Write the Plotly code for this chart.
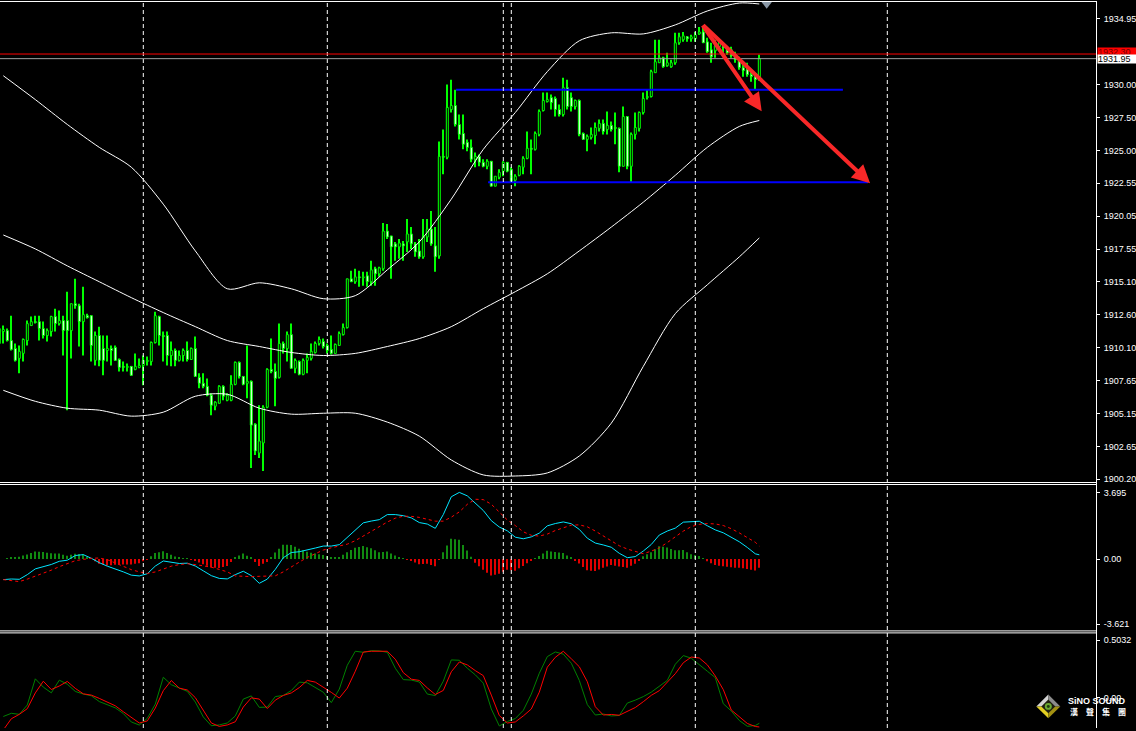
import plotly.graph_objects as go

# ---------------- DATA ----------------
# bar numbers (30-minute bars); bar k is drawn at candle slot k
candle_idx = list(range(-1, 190))
opens = [1910.44, 1911.34, 1911.41, 1910.66, 1910.06, 1909.31, 1909.69, 1910.66, 1911.79, 1912.09,
         1912.09, 1911.56, 1911.04, 1911.34, 1912.47, 1911.94, 1912.17, 1912.17, 1911.41, 1913.44,
         1913.29, 1912.09, 1912.54, 1912.54, 1909.16, 1911.04, 1910.06, 1909.91, 1910.06, 1910.14,
         1909.23, 1908.71, 1908.63, 1908.71, 1908.48, 1908.63, 1908.78, 1909.08, 1909.08, 1910.51,
         1912.47, 1911.04, 1911.04, 1909.53, 1909.91, 1909.16, 1909.53, 1909.91, 1909.23, 1910.06,
         1907.88, 1907.43, 1907.20, 1906.53, 1905.70, 1905.92, 1907.20, 1906.15, 1906.15, 1907.35,
         1909.01, 1907.95, 1907.43, 1907.58, 1904.34, 1902.16, 1902.92, 1905.62, 1908.48, 1908.33,
         1907.88, 1910.44, 1910.06, 1911.11, 1908.56, 1909.08, 1908.11, 1909.16, 1909.31, 1909.76,
         1910.44, 1910.59, 1910.29, 1909.99, 1909.69, 1910.29, 1911.11, 1911.64, 1915.32, 1915.10,
         1915.47, 1915.40, 1915.55, 1915.10, 1916.08, 1915.70, 1916.08, 1918.93, 1918.56, 1917.96,
         1917.73, 1917.96, 1918.11, 1918.71, 1917.96, 1917.43, 1916.98, 1918.48, 1919.08, 1917.81,
         1917.05, 1924.57, 1924.50, 1928.11, 1928.41, 1926.98, 1926.30, 1925.63, 1925.25, 1924.35,
         1924.57, 1924.12, 1923.82, 1924.20, 1922.32, 1922.99, 1923.45, 1924.12, 1923.60, 1922.77,
         1923.14, 1923.75, 1924.42, 1925.18, 1925.10, 1926.23, 1928.03, 1928.71, 1929.01, 1928.94,
         1928.11, 1927.73, 1929.76, 1929.01, 1928.33, 1928.79, 1926.30, 1925.85, 1926.00, 1926.15,
         1926.68, 1927.06, 1926.60, 1926.91, 1926.75, 1926.68, 1923.82, 1927.58, 1923.82, 1926.23,
         1926.68, 1927.88, 1929.01, 1929.09, 1930.89, 1931.64, 1932.02, 1931.42, 1931.34, 1931.64,
         1933.15, 1933.37, 1933.60, 1933.45, 1933.45, 1933.82, 1933.97, 1933.22, 1932.62, 1932.54,
         1932.85, 1932.85, 1932.77, 1932.62, 1932.24, 1931.94, 1931.27, 1931.12, 1930.74, 1930.59,
         1930.36]
highs = [1911.94, 1911.79, 1911.56, 1912.54, 1910.44, 1910.29, 1910.81, 1912.17, 1912.47, 1912.54,
         1912.54, 1912.09, 1911.56, 1912.54, 1913.07, 1912.92, 1912.54, 1914.35, 1913.44, 1915.32,
         1913.44, 1914.72, 1912.69, 1912.54, 1911.34, 1911.71, 1911.04, 1911.04, 1910.29, 1910.29,
         1909.31, 1909.08, 1908.93, 1908.71, 1909.69, 1909.31, 1909.53, 1909.46, 1910.59, 1912.84,
         1912.54, 1911.34, 1911.34, 1910.59, 1910.06, 1909.91, 1910.06, 1910.59, 1910.14, 1910.96,
         1908.18, 1908.18, 1907.80, 1906.68, 1906.07, 1907.28, 1907.28, 1906.68, 1908.03, 1909.08,
         1909.08, 1907.95, 1910.29, 1907.65, 1904.42, 1905.77, 1905.77, 1908.56, 1910.81, 1908.93,
         1911.94, 1910.59, 1911.34, 1911.94, 1909.31, 1909.16, 1909.31, 1909.69, 1910.44, 1910.59,
         1910.96, 1910.81, 1910.44, 1911.04, 1910.44, 1911.34, 1911.94, 1915.32, 1915.93, 1916.08,
         1915.93, 1915.85, 1915.85, 1916.68, 1916.23, 1916.23, 1919.54, 1919.46, 1918.56, 1918.11,
         1918.33, 1918.18, 1919.84, 1919.23, 1918.11, 1918.33, 1919.84, 1919.84, 1920.44, 1919.23,
         1925.70, 1926.60, 1929.99, 1930.36, 1929.61, 1927.73, 1927.73, 1925.85, 1925.85, 1924.87,
         1924.72, 1924.35, 1924.35, 1924.20, 1923.07, 1923.60, 1924.20, 1924.12, 1923.75, 1923.22,
         1923.90, 1924.57, 1926.45, 1925.85, 1926.45, 1928.11, 1929.39, 1929.39, 1929.24, 1929.09,
         1928.48, 1930.51, 1930.36, 1929.39, 1928.86, 1928.86, 1926.38, 1926.23, 1926.75, 1927.13,
         1927.36, 1927.36, 1927.96, 1927.21, 1927.88, 1926.75, 1928.33, 1927.58, 1926.38, 1927.88,
         1927.96, 1929.39, 1929.61, 1931.12, 1933.37, 1933.37, 1932.09, 1932.39, 1931.87, 1933.90,
         1933.90, 1933.97, 1933.67, 1933.75, 1933.97, 1934.35, 1934.35, 1933.52, 1933.15, 1933.37,
         1933.22, 1933.15, 1932.85, 1932.85, 1932.47, 1932.09, 1931.49, 1931.64, 1930.97, 1930.74,
         1932.24]
lows = [1909.31, 1910.44, 1910.59, 1909.91, 1909.08, 1908.18, 1909.08, 1910.29, 1911.79, 1911.94,
        1910.66, 1910.81, 1910.59, 1910.96, 1911.34, 1911.79, 1909.53, 1905.40, 1909.31, 1913.07,
        1910.21, 1909.53, 1912.32, 1909.08, 1908.78, 1908.71, 1908.03, 1909.08, 1908.78, 1909.16,
        1908.33, 1908.33, 1908.33, 1908.03, 1908.41, 1908.56, 1907.28, 1908.78, 1908.78, 1910.44,
        1910.29, 1909.08, 1908.78, 1908.71, 1908.71, 1909.08, 1909.08, 1909.08, 1909.23, 1907.95,
        1907.05, 1907.05, 1906.45, 1905.02, 1905.40, 1905.92, 1906.15, 1906.07, 1906.07, 1907.28,
        1907.80, 1907.28, 1906.30, 1901.04, 1902.01, 1901.79, 1900.81, 1905.55, 1908.18, 1905.70,
        1907.80, 1909.69, 1909.08, 1908.56, 1908.18, 1908.03, 1908.03, 1908.18, 1909.16, 1909.69,
        1910.29, 1910.06, 1909.69, 1909.61, 1909.69, 1910.29, 1911.04, 1911.56, 1915.10, 1914.95,
        1914.72, 1914.80, 1914.72, 1914.80, 1914.80, 1915.47, 1915.93, 1918.33, 1915.32, 1916.68,
        1916.83, 1916.68, 1917.35, 1917.58, 1916.98, 1916.83, 1916.83, 1918.11, 1917.81, 1915.85,
        1916.83, 1923.22, 1924.35, 1927.88, 1926.83, 1925.85, 1925.10, 1924.95, 1924.12, 1923.75,
        1923.82, 1923.75, 1923.60, 1922.32, 1922.32, 1922.84, 1923.07, 1923.37, 1922.62, 1922.32,
        1923.07, 1923.22, 1924.35, 1923.22, 1925.02, 1926.08, 1927.96, 1928.63, 1928.11, 1927.58,
        1927.58, 1927.58, 1928.11, 1927.96, 1928.11, 1926.08, 1925.85, 1924.95, 1925.85, 1925.48,
        1926.45, 1926.23, 1926.23, 1926.45, 1925.48, 1923.37, 1923.82, 1923.60, 1922.62, 1925.85,
        1926.45, 1927.73, 1928.86, 1929.01, 1930.89, 1931.64, 1931.27, 1931.34, 1931.27, 1931.49,
        1933.00, 1933.22, 1933.22, 1933.22, 1933.22, 1933.75, 1933.15, 1932.39, 1931.64, 1932.02,
        1932.62, 1932.39, 1932.24, 1932.02, 1931.64, 1931.12, 1930.59, 1930.59, 1930.21, 1929.61,
        1930.29]
closes = [1911.56, 1911.49, 1910.66, 1909.99, 1909.16, 1909.84, 1910.74, 1911.94, 1912.09, 1912.02,
          1911.56, 1911.04, 1911.41, 1912.47, 1911.94, 1912.17, 1911.41, 1911.41, 1913.44, 1913.29,
          1912.09, 1912.62, 1912.39, 1910.29, 1911.04, 1909.16, 1909.16, 1910.06, 1909.91, 1909.16,
          1908.63, 1908.63, 1908.71, 1908.03, 1908.71, 1908.78, 1909.16, 1909.16, 1910.51, 1912.54,
          1911.04, 1910.96, 1909.53, 1909.91, 1909.16, 1909.53, 1909.91, 1909.23, 1910.06, 1907.95,
          1907.43, 1907.20, 1906.53, 1905.77, 1906.00, 1907.20, 1906.45, 1906.53, 1907.35, 1909.01,
          1907.95, 1907.35, 1907.58, 1904.27, 1902.32, 1903.07, 1905.62, 1908.48, 1908.33, 1907.80,
          1910.44, 1910.06, 1911.11, 1908.56, 1909.16, 1908.11, 1909.16, 1909.38, 1909.84, 1910.44,
          1910.74, 1910.21, 1909.91, 1909.69, 1910.36, 1911.19, 1911.64, 1915.32, 1915.10, 1915.47,
          1915.40, 1915.47, 1915.10, 1916.00, 1915.70, 1916.15, 1918.93, 1918.48, 1917.73, 1917.73,
          1918.03, 1917.81, 1918.71, 1917.96, 1917.35, 1916.98, 1918.48, 1919.08, 1917.96, 1916.98,
          1924.57, 1924.50, 1928.26, 1928.41, 1926.98, 1926.23, 1925.48, 1925.25, 1924.35, 1924.57,
          1924.12, 1923.82, 1924.20, 1922.32, 1923.07, 1923.37, 1924.12, 1923.45, 1922.62, 1923.07,
          1923.82, 1924.42, 1925.18, 1925.10, 1926.30, 1927.96, 1928.79, 1928.86, 1928.63, 1928.11,
          1927.73, 1929.76, 1928.33, 1928.33, 1928.79, 1926.23, 1925.85, 1926.08, 1926.23, 1926.75,
          1927.06, 1926.45, 1926.91, 1926.60, 1926.68, 1923.82, 1927.58, 1923.82, 1926.23, 1926.75,
          1927.88, 1928.94, 1929.09, 1930.97, 1931.72, 1932.02, 1931.34, 1931.64, 1931.64, 1933.15,
          1933.60, 1933.67, 1933.45, 1933.60, 1933.75, 1933.97, 1933.15, 1932.47, 1932.09, 1932.92,
          1933.15, 1932.77, 1932.39, 1932.17, 1931.87, 1931.27, 1931.04, 1930.74, 1930.59, 1930.36,
          1931.95]

# Bollinger bands (sampled at these bars)
band_idx = [0, 8, 16, 24, 32, 40, 48, 56, 64, 72, 80, 88, 96, 104, 112, 120, 128, 136, 144,
            152, 160, 168, 176, 184, 189]
band_upper = [1930.66, 1928.86, 1926.98, 1925.25, 1923.75, 1920.96, 1917.43, 1914.57, 1915.02,
              1914.57, 1913.82, 1914.05, 1916.00, 1918.11, 1921.34, 1925.10, 1927.88, 1930.97,
              1933.30, 1933.90, 1933.82, 1934.50, 1935.55, 1936.15, 1936.08]
band_middle = [1918.63, 1917.58, 1916.30, 1915.10, 1913.90, 1912.77, 1911.71, 1910.66, 1910.21,
               1909.76, 1909.53, 1909.69, 1910.21, 1910.81, 1911.71, 1913.07, 1914.35, 1915.70,
               1917.43, 1919.23, 1921.11, 1923.14, 1925.25, 1926.83, 1927.28]
band_lower = [1906.90, 1906.07, 1905.55, 1905.40, 1904.95, 1905.25, 1906.45, 1906.60, 1905.55,
              1905.10, 1905.17, 1905.17, 1904.50, 1903.44, 1901.64, 1900.51, 1900.43, 1900.66,
              1901.94, 1904.42, 1908.71, 1912.69, 1914.87, 1916.98, 1918.41]

# MACD panel
ind_idx = list(range(0, 189, 2)) + [189]
macd_main = [-1.144, -1.110, -1.127, -0.867, -0.547, -0.425, -0.304, -0.127, -0.066, 0.193,
             0.243, 0.039, -0.204, -0.398, -0.541, -0.713, -0.895, -0.939, -0.818, -0.392,
             -0.110, -0.171, -0.249, -0.232, -0.387, -0.657, -0.923, -1.077, -1.105, -0.867,
             -0.680, -0.923, -1.348, -1.116, -0.575, 0.072, 0.359, 0.403, 0.486, 0.608,
             0.718, 0.718, 0.796, 1.204, 1.641, 2.006, 2.105, 2.182, 2.464, 2.464,
             2.403, 2.282, 2.022, 1.939, 1.702, 2.464, 3.453, 3.695, 3.503, 3.110,
             2.691, 2.127, 1.773, 1.564, 1.210, 1.122, 1.227, 1.436, 1.840, 1.967,
             2.055, 1.956, 1.641, 1.155, 0.884, 0.779, 0.652, 0.315, 0.072, 0.133,
             0.442, 0.807, 1.331, 1.552, 1.713, 2.044, 2.061, 2.094, 1.845, 1.613,
             1.453, 1.221, 0.956, 0.641, 0.287, 0.232]
macd_signal = [-1.144, -1.199, -1.254, -1.116, -0.956, -0.812, -0.619, -0.425, -0.243, -0.094,
               -0.022, 0.039, 0.055, -0.039, -0.221, -0.414, -0.591, -0.713, -0.801, -0.718,
               -0.541, -0.398, -0.309, -0.260, -0.309, -0.365, -0.453, -0.580, -0.713, -0.939,
               -0.978, -0.978, -0.961, -0.961, -0.934, -0.713, -0.425, -0.171, 0.088, 0.309,
               0.497, 0.624, 0.713, 0.823, 1.017, 1.287, 1.519, 1.812, 2.050, 2.265,
               2.376, 2.365, 2.309, 2.204, 2.099, 2.099, 2.320, 2.613, 3.033, 3.315,
               3.293, 3.039, 2.597, 2.166, 1.856, 1.508, 1.315, 1.271, 1.381, 1.580,
               1.729, 1.878, 1.895, 1.785, 1.552, 1.271, 0.978, 0.735, 0.552, 0.403,
               0.293, 0.436, 0.619, 0.912, 1.227, 1.547, 1.796, 1.923, 1.967, 1.945,
               1.856, 1.680, 1.448, 1.199, 0.928, 0.718]
hist_idx = list(range(0, 190))
macd_hist = [0.00, 0.04, 0.09, 0.11, 0.13, 0.19, 0.25, 0.33, 0.41, 0.40,
             0.39, 0.35, 0.32, 0.31, 0.30, 0.24, 0.18, 0.23, 0.29, 0.28,
             0.27, 0.13, 0.00, -0.13, -0.26, -0.31, -0.36, -0.34, -0.32, -0.31,
             -0.30, -0.30, -0.30, -0.26, -0.23, -0.12, -0.02, 0.15, 0.33, 0.38,
             0.43, 0.33, 0.23, 0.14, 0.06, 0.04, 0.03, -0.02, -0.08, -0.19,
             -0.29, -0.38, -0.47, -0.48, -0.50, -0.45, -0.39, -0.16, 0.07, 0.19,
             0.30, 0.18, 0.06, -0.17, -0.39, -0.27, -0.16, 0.10, 0.36, 0.57,
             0.79, 0.79, 0.78, 0.68, 0.57, 0.49, 0.40, 0.35, 0.30, 0.26,
             0.22, 0.16, 0.09, 0.09, 0.08, 0.23, 0.38, 0.50, 0.62, 0.67,
             0.72, 0.65, 0.59, 0.48, 0.37, 0.39, 0.41, 0.31, 0.20, 0.11,
             0.03, -0.03, -0.08, -0.19, -0.29, -0.28, -0.27, -0.33, -0.40, -0.02,
             0.37, 0.75, 1.13, 1.10, 1.07, 0.77, 0.47, 0.13, -0.21, -0.40,
             -0.60, -0.76, -0.91, -0.87, -0.82, -0.71, -0.60, -0.62, -0.65, -0.52,
             -0.39, -0.24, -0.09, 0.04, 0.17, 0.31, 0.46, 0.42, 0.39, 0.36,
             0.33, 0.20, 0.08, -0.09, -0.25, -0.44, -0.63, -0.65, -0.67, -0.58,
             -0.49, -0.41, -0.33, -0.37, -0.42, -0.45, -0.48, -0.38, -0.27, -0.06,
             0.15, 0.26, 0.37, 0.54, 0.71, 0.68, 0.64, 0.56, 0.49, 0.49,
             0.50, 0.38, 0.27, 0.22, 0.17, 0.02, -0.12, -0.23, -0.33, -0.37,
             -0.40, -0.43, -0.46, -0.48, -0.49, -0.52, -0.56, -0.60, -0.64, -0.49]

# lower oscillator panel
osc_main = [-0.168, -0.140, -0.149, -0.067, 0.163, 0.090, 0.040, 0.151, 0.116, 0.052,
            0.029, 0.014, -0.037, -0.065, -0.092, -0.142, -0.216, -0.243, -0.184, -0.059,
            0.177, 0.111, 0.079, 0.053, -0.041, -0.172, -0.249, -0.242, -0.225, -0.163,
            -0.015, 0.013, -0.088, -0.085, 0.007, 0.017, 0.060, 0.134, 0.128, 0.086,
            0.045, -0.046, 0.073, 0.282, 0.405, 0.396, 0.410, 0.408, 0.396, 0.256,
            0.156, 0.152, 0.135, 0.029, 0.016, 0.142, 0.329, 0.326, 0.256, 0.198,
            0.125, -0.102, -0.251, -0.212, -0.186, -0.114, 0.029, 0.212, 0.358, 0.399,
            0.380, 0.300, 0.149, -0.063, -0.155, -0.146, -0.163, -0.159, -0.050, -0.024,
            0.007, 0.046, 0.097, 0.149, 0.291, 0.367, 0.344, 0.291, 0.230, 0.173,
            -0.056, -0.120, -0.203, -0.254, -0.247, -0.228]
osc_signal = [-0.286, -0.188, -0.149, -0.099, 0.039, 0.142, 0.069, 0.100, 0.140, 0.079,
              0.031, 0.020, -0.009, -0.038, -0.074, -0.126, -0.179, -0.225, -0.207, -0.094,
              0.059, 0.148, 0.081, 0.065, -0.002, -0.111, -0.225, -0.255, -0.242, -0.214,
              -0.085, -0.004, -0.015, -0.098, -0.024, 0.017, 0.039, 0.086, 0.149, 0.134,
              0.090, 0.044, -0.006, 0.081, 0.230, 0.398, 0.405, 0.405, 0.405, 0.335,
              0.217, 0.160, 0.149, 0.083, 0.025, 0.061, 0.225, 0.311, 0.285, 0.235,
              0.191, 0.020, -0.159, -0.225, -0.216, -0.163, -0.102, 0.046, 0.265, 0.352,
              0.405, 0.339, 0.269, 0.138, -0.082, -0.155, -0.150, -0.157, -0.124, -0.089,
              -0.038, 0.018, 0.059, 0.134, 0.208, 0.304, 0.354, 0.346, 0.286, 0.188,
              0.068, -0.111, -0.168, -0.229, -0.256, -0.260]

# tick labels
price_ticks = [1934.95, 1930.00, 1927.50, 1925.00, 1922.55, 1920.05, 1917.55, 1915.10,
               1912.60, 1910.10, 1907.65, 1905.15, 1902.65, 1900.20]
price_tick_text = ["1934.95", "1930.00", "1927.50", "1925.00", "1922.55", "1920.05", "1917.55",
                   "1915.10", "1912.60", "1910.10", "1907.65", "1905.15", "1902.65", "1900.20"]
macd_ticks = [3.695, 0.0, -3.621]
macd_tick_text = ["3.695", "0.00", "-3.621"]
osc_ticks = [0.5032, 0.0]
osc_tick_text = ["0.5032", "0.00"]

# chart annotations
day_breaks = [35, 81, 125, 127, 173, 221]
ask_price = 1932.30
bid_price = 1931.95
resistance = dict(level=1929.61, start=113.2, end=209.9)
support = dict(level=1922.62, start=121.2, end=216.2)
arrow_tail = (174.6, 1934.58)
arrow_tips = [(189.6, 1927.98), (216.7, 1922.54)]
shift_marker = (190.85, 1936.1)

# ---------------- LAYOUT GEOMETRY ----------------
W, H = 1136, 731
AXIS_X = 1096
LIME = "#00ff00"
FONT = "Liberation Sans"


def px(xp):
    return xp / W


def py(yp):
    return 1 - yp / H


fig = go.Figure()

# candles: wicks then bodies
fig.add_trace(go.Bar(x=candle_idx, base=lows, y=[h - l for h, l in zip(highs, lows)],
                     width=0.25, marker=dict(color=LIME, line=dict(width=0)),
                     xaxis="x", yaxis="y", hoverinfo="skip"))
body_base = [min(o, c) for o, c in zip(opens, closes)]
body_h = [max(abs(c - o), 0.05) for o, c in zip(opens, closes)]
body_fill = ["#000000" if c >= o else "#ffffff" for o, c in zip(opens, closes)]
fig.add_trace(go.Bar(x=candle_idx, base=body_base, y=body_h, width=0.5,
                     marker=dict(color=body_fill, line=dict(color=LIME, width=1)),
                     xaxis="x", yaxis="y", hoverinfo="skip"))

for band in (band_upper, band_middle, band_lower):
    fig.add_trace(go.Scatter(x=band_idx, y=band, mode="lines",
                             line=dict(color="#ffffff", width=1, shape="spline", smoothing=0.8),
                             xaxis="x", yaxis="y", hoverinfo="skip"))

# level lines
for lv in (resistance, support):
    fig.add_trace(go.Scatter(x=[lv["start"], lv["end"]], y=[lv["level"], lv["level"]],
                             mode="lines", line=dict(color="#0000ff", width=2),
                             xaxis="x", yaxis="y", hoverinfo="skip"))

fig.add_trace(go.Scatter(x=[shift_marker[0]], y=[shift_marker[1]], mode="markers",
                         marker=dict(symbol="triangle-down", size=10, color="#8a98a6"),
                         cliponaxis=False, xaxis="x", yaxis="y", hoverinfo="skip"))

# MACD panel
fig.add_trace(go.Bar(x=hist_idx, y=macd_hist, width=0.25,
                     marker=dict(color=["#118a11" if v >= 0 else "#e00000" for v in macd_hist],
                                 line=dict(width=0)),
                     xaxis="x", yaxis="y2", hoverinfo="skip"))
fig.add_trace(go.Scatter(x=ind_idx, y=macd_main, mode="lines",
                         line=dict(color="#00e5ff", width=1), xaxis="x", yaxis="y2",
                         hoverinfo="skip"))
fig.add_trace(go.Scatter(x=ind_idx, y=macd_signal, mode="lines",
                         line=dict(color="#ff0000", width=1, dash="3px,3px"),
                         xaxis="x", yaxis="y2", hoverinfo="skip"))

# oscillator panel
fig.add_trace(go.Scatter(x=ind_idx, y=osc_main, mode="lines",
                         line=dict(color="#008000", width=1), xaxis="x", yaxis="y3",
                         hoverinfo="skip"))
fig.add_trace(go.Scatter(x=ind_idx, y=osc_signal, mode="lines",
                         line=dict(color="#ff0000", width=1), xaxis="x", yaxis="y3",
                         hoverinfo="skip"))

axis_common = dict(side="right", anchor="x", ticks="outside", ticklen=3, tickcolor="#ffffff",
                   tickwidth=1, showgrid=False, zeroline=False, showline=False,
                   tickfont=dict(color="#ffffff", size=9, family=FONT), fixedrange=True,
                   ticklabelstandoff=2)

fig.update_layout(
    width=W, height=H, margin=dict(l=0, r=0, t=0, b=0),
    paper_bgcolor="#000000", plot_bgcolor="#000000", showlegend=False,
    barmode="overlay",
    xaxis=dict(domain=[0, AXIS_X / W], range=[-3.3 / 4, (AXIS_X - 3.3) / 4], visible=False,
               fixedrange=True, anchor="y"),
    yaxis=dict(domain=[py(483), 1], range=[1900.05, 1936.38], tickvals=price_ticks,
               ticktext=price_tick_text, **axis_common),
    yaxis2=dict(domain=[py(633), py(487)], range=[-3.961, 4.105], tickvals=macd_ticks,
                ticktext=macd_tick_text, **axis_common),
    yaxis3=dict(domain=[0, py(636)], range=[-0.269, 0.562], tickvals=osc_ticks,
                ticktext=osc_tick_text, **axis_common),
)

shapes = []
# day separators
for k in day_breaks:
    shapes.append(dict(type="line", xref="x", yref="paper", x0=k, x1=k, y0=0, y1=1,
                       line=dict(color="#ffffff", width=1, dash="4px,3px"), layer="above"))
# ask / bid lines
shapes.append(dict(type="line", xref="paper", yref="y", x0=0, x1=px(AXIS_X), y0=ask_price,
                   y1=ask_price, line=dict(color="#ff0000", width=1)))
shapes.append(dict(type="line", xref="paper", yref="y", x0=0, x1=px(AXIS_X), y0=bid_price,
                   y1=bid_price, line=dict(color="#a0a0a0", width=1)))
# frame lines
for yl in (1.5, 484.5, 486.5, 633.5, 635.5):
    shapes.append(dict(type="line", xref="paper", yref="paper", x0=0, x1=px(AXIS_X + 0.5),
                       y0=py(yl), y1=py(yl), line=dict(color="#ffffff", width=1), layer="above"))
shapes.append(dict(type="line", xref="paper", yref="paper", x0=px(AXIS_X + 0.5),
                   x1=px(AXIS_X + 0.5), y0=0, y1=py(1), line=dict(color="#ffffff", width=1),
                   layer="above"))


# logo
def poly(points, fill):
    d = "M " + " L ".join(f"{px(a):.5f},{py(b):.5f}" for a, b in points) + " Z"
    return dict(type="path", xref="paper", yref="paper", path=d, fillcolor=fill,
                line=dict(width=0), layer="above")


cx, cy = 1048.3, 709.3
R, r = 12.0, 7.0
shapes.append(poly([(cx - R, cy), (cx, cy - R), (cx, cy)], "#d4d4d4"))
shapes.append(poly([(cx, cy - R), (cx + R, cy), (cx, cy)], "#8c8c8c"))
shapes.append(poly([(cx - R, cy), (cx, cy + R), (cx, cy)], "#e2cf22"))
shapes.append(poly([(cx, cy + R), (cx + R, cy), (cx, cy)], "#a39112"))
shapes.append(poly([(cx - r, cy), (cx, cy - r), (cx + r, cy), (cx, cy + r)], "#1f1f10"))
shapes.append(dict(type="circle", xref="paper", yref="paper", x0=px(cx - 3.5), x1=px(cx + 3.5),
                   y0=py(cy + 3.5), y1=py(cy - 3.5), fillcolor="#6aa832",
                   line=dict(width=0), layer="above"))
shapes.append(dict(type="circle", xref="paper", yref="paper", x0=px(cx - 1.5), x1=px(cx + 1.5),
                   y0=py(cy + 1.5), y1=py(cy - 1.5), fillcolor="#203a10",
                   line=dict(width=0), layer="above"))
fig.update_layout(shapes=shapes)

# arrows
for tip in arrow_tips:
    fig.add_annotation(x=tip[0], y=tip[1], ax=arrow_tail[0], ay=arrow_tail[1], xref="x",
                       yref="y", axref="x", ayref="y", showarrow=True, arrowhead=2,
                       arrowsize=0.9, arrowwidth=4, arrowcolor="#f82828", text="", standoff=0)

# ask / bid price labels
fig.add_annotation(xref="paper", x=px(AXIS_X), xanchor="left", yref="y", y=ask_price,
                   yshift=2, yanchor="middle", text="1932.30", showarrow=False,
                   bgcolor="#ff0000", font=dict(color="#700000", size=9, family=FONT),
                   width=38, height=8, borderpad=0, align="left", xshift=1)
fig.add_annotation(xref="paper", x=px(AXIS_X), xanchor="left", yref="y", y=bid_price,
                   yanchor="middle", text="1931.95", showarrow=False,
                   bgcolor="#ffffff", font=dict(color="#000000", size=9, family=FONT),
                   width=38, height=8, borderpad=0, align="left", xshift=1)

# logo text
fig.add_annotation(xref="paper", yref="paper", x=px(1097), y=py(704), xanchor="center",
                   yanchor="middle", text="<b>SiNO SOUND</b>", showarrow=False,
                   font=dict(color="#ffffff", size=9, family=FONT))
fig.add_annotation(xref="paper", yref="paper", x=px(1098), y=py(714), xanchor="center",
                   yanchor="middle", text="<b>漢　聲　集　團</b>", showarrow=False,
                   font=dict(color="#ffffff", size=8, family="Noto Sans CJK TC"))

fig.write_html("out.html", config={"displayModeBar": False},
               post_script="document.body.style.margin='0';document.body.style.overflow='hidden';")
